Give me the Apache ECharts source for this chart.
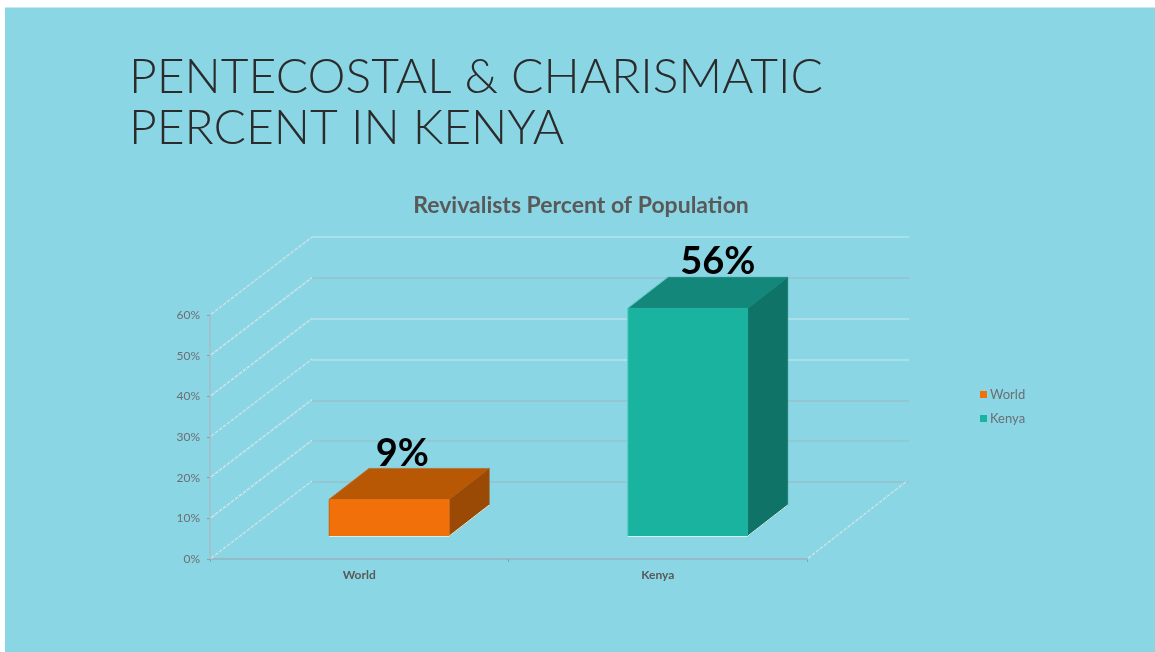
<!DOCTYPE html>
<html><head><meta charset="utf-8">
<style>html,body{margin:0;padding:0;background:#fff}#c{width:1155px;height:652px}</style>
<script src="https://cdn.jsdelivr.net/npm/echarts@6/dist/echarts.min.js"></script>
</head><body><div id="c"></div>
<script>
const categories = ['World', 'Kenya'];
const worldValues = [9, null];
const kenyaValues = [null, 56];
const yTicks = [0, 10, 20, 30, 40, 50, 60];
const wallLineColors = ['#93c0cc','#95c4d0','#93c0cc','#b5e3ec','#b5e3ec','#93c0cc','#b5e3ec'];

const DX = 102, DY = -78;
const barOffsetX = 30, barOffsetY = -23, barWidth = 120, barDX = 40, barDY = -31;

function barRender(front, top, side, edge) {
  return function (params, api) {
    const v = api.value(1);
    const c0 = api.coord([api.value(0), 0]);
    const c1 = api.coord([api.value(0), v]);
    const l = c0[0] + barOffsetX - barWidth / 2, r = l + barWidth;
    const b = c0[1] + barOffsetY, t = c1[1] + barOffsetY;
    const poly = (pts, fill, stroke, w) => ({
      type: 'polygon', shape: { points: pts },
      style: { fill: fill, stroke: stroke, lineWidth: w }
    });
    const edgeLine = (x1, y1, x2, y2, c, w) => ({ type: 'line', shape: { x1, y1, x2, y2 }, style: { stroke: c, lineWidth: w } });
    return { type: 'group', children: [
      poly([[r,b],[r+barDX,b+barDY],[r+barDX,t+barDY],[r,t]], side, side, 0.5),
      poly([[l,t],[r,t],[r+barDX,t+barDY],[l+barDX,t+barDY]], top, top, 0.5),
      poly([[l,b],[r,b],[r,t],[l,t]], front, front, 0.5),
      edgeLine(l, t, l, b, edge, 1),
      edgeLine(l, t, l + barDX, t + barDY, edge, 1),
      edgeLine(r, b, r + barDX, b + barDY, '#d6f0ee', 1),
      edgeLine(l, b + 0.5, r, b + 0.5, '#d6f0ee', 1),
      { type: 'text', style: { text: v + '%', x: l + barWidth/2 + 13 + (v > 20 ? 17 : 0), y: t + barDY + (v > 20 ? 3 : 4),
          align: 'center', verticalAlign: 'bottom',
          font: 'bold 38px "Lato", sans-serif', fill: '#000' } }
    ]};
  };
}

function dottedLine(x1, y1, x2, y2) {
  return { type: 'group', children: [
    { type: 'line', shape: { x1, y1, x2, y2 }, style: { stroke: '#c4e9f0', lineWidth: 1.4 } },
    { type: 'line', shape: { x1, y1, x2, y2 }, style: { stroke: '#9ab6bf', lineWidth: 1, lineDash: [1.5, 3.5] } }
  ]};
}

function sideRender(params, api) {
  const p = api.coord([0, api.value(0)]);
  const s = api.size([1, 0]);
  const x = p[0] - s[0] / 2, y = p[1];
  return dottedLine(x, y, x + DX, y + DY);
}

function floorRender(params, api) {
  const p = api.coord([1, 0]);
  const s = api.size([1, 0]);
  const x = p[0] + s[0] / 2, y = p[1];
  return dottedLine(x, y, x + DX - 2, y + DY);
}

const chart = echarts.init(document.getElementById('c'), null, { renderer: 'canvas' });
chart.setOption({
  animation: false,
  backgroundColor: '#ffffff',
  graphic: [{ type: 'rect', z: -10, silent: true, shape: { x: 5, y: 7.5, width: 1150, height: 644.5 },
    style: { fill: '#8bd6e4' } }],
  title: [
    { text: 'PENTECOSTAL & CHARISMATIC\nPERCENT IN KENYA', left: 124, top: 47,
      textStyle: { fontFamily: 'Lato', fontWeight: 300, fontSize: 48, lineHeight: 51, color: '#2b2b2b' } },
    { text: 'Revivalists Percent of Population', left: 576, top: 189, textAlign: 'center',
      textStyle: { fontFamily: 'Lato', fontWeight: 'bold', fontSize: 23, color: '#595959' } }
  ],
  legend: { orient: 'vertical', left: 975, top: 383, itemWidth: 7, itemHeight: 7, itemGap: 11,
    icon: 'rect', data: categories,
    textStyle: { fontFamily: 'Lato', fontSize: 13, color: '#6b6f72', padding: [0,0,0,-2] } },
  grid: [
    { left: 210, top: 315, width: 597, height: 244, containLabel: false },
    { left: 312, top: 237, width: 597, height: 245, containLabel: false }
  ],
  xAxis: [
    { type: 'category', gridIndex: 0, data: categories,
      axisLine: { lineStyle: { color: '#93bcc8', width: 2 } },
      axisTick: { show: true, length: 3, lineStyle: { color: '#8f9ea6' } },
      axisLabel: { fontFamily: 'Lato', fontWeight: 'bold', fontSize: 12, color: '#595959', margin: 10 } },
    { type: 'category', gridIndex: 1, data: categories,
      axisLine: { show: false }, axisTick: { show: false }, axisLabel: { show: false } }
  ],
  yAxis: [
    { type: 'value', gridIndex: 0, min: 0, max: 60, interval: 10,
      axisLine: { show: true, lineStyle: { color: '#9fc3ce', width: 2 } },
      axisTick: { show: true, length: 3, lineStyle: { color: '#8f9ea6' } },
      splitLine: { show: false },
      axisLabel: { formatter: '{value}%', fontFamily: 'Lato', fontSize: 12, color: '#6b6f72', margin: 10, padding: [2, 0, 0, 0] } },
    { type: 'value', gridIndex: 1, min: 0, max: 60, interval: 10,
      axisLine: { show: false }, axisTick: { show: false }, axisLabel: { show: false },
      splitLine: { show: true, lineStyle: { width: 1.5, color: wallLineColors } } }
  ],
  series: [
    { type: 'custom', name: 'sideWall', xAxisIndex: 0, yAxisIndex: 0, renderItem: sideRender,
      data: yTicks.map(v => [v]), encode: { y: 0 }, silent: true, z: 1 },
    { type: 'custom', name: 'floor', xAxisIndex: 0, yAxisIndex: 0, renderItem: floorRender,
      data: [[0]], silent: true, z: 1 },
    { type: 'custom', name: 'World', xAxisIndex: 0, yAxisIndex: 0, z: 3,
      itemStyle: { color: '#f27009' },
      renderItem: barRender('#f27009', '#b85704', '#9a4a04', '#c9651a'),
      data: [[0, worldValues[0]]], encode: { x: 0, y: 1 } },
    { type: 'custom', name: 'Kenya', xAxisIndex: 0, yAxisIndex: 0, z: 3,
      itemStyle: { color: '#1ab3a0' },
      renderItem: barRender('#1ab3a0', '#12877a', '#0f7367', '#62d0c8'),
      data: [[1, kenyaValues[1]]], encode: { x: 0, y: 1 } }
  ]
});
</script></body></html>
